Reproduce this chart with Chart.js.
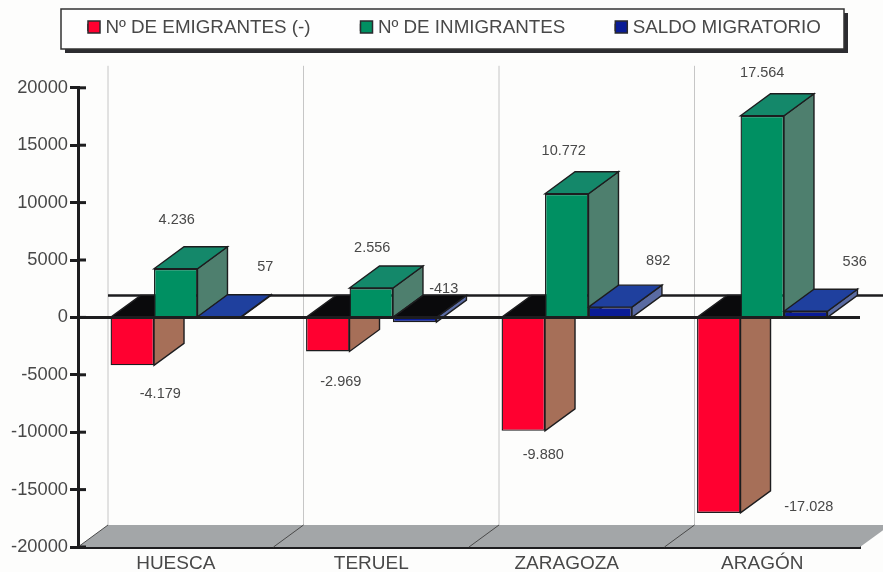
<!DOCTYPE html>
<html>
<head>
<meta charset="utf-8">
<title>Saldo migratorio</title>
<script src="https://cdn.jsdelivr.net/npm/chart.js@4/dist/chart.umd.min.js"></script>
<style>
  html, body { margin: 0; padding: 0; background: #fdfdfc; }
  canvas { display: block; }
</style>
</head>
<body>
<canvas id="myChart" width="883" height="572"></canvas>
<script>
const categories = ['HUESCA', 'TERUEL', 'ZARAGOZA', 'ARAGÓN'];
const emigrantes = [-4179, -2969, -9880, -17028];
const inmigrantes = [4236, 2556, 10772, 17564];
const saldo = [57, -413, 892, 536];
const yTicks = [-20000, -15000, -10000, -5000, 0, 5000, 10000, 15000, 20000];

// extrusion of the bars, in pixels
const depthX = 30;
const depthY = 22;
const ink = '#1d1d1f';
const textColor = '#484848';
const font = 'Arial, "Liberation Sans", sans-serif';

// faces: front, side, top of each series
const faces = [
    { front: '#ff0030', side: '#a66f58', top: '#0a0a0c' },
    { front: '#009062', side: '#4e7f6e', top: '#14886a' },
    { front: '#0a1c96', side: '#5a6ba2', top: '#1f409e' }
];

// where each value label sits, relative to the end of its bar
const labelOffsets = [
    [[28, 29], [13, 31], [20, 24], [90, -6]],
    [[1, -49], [1, -40], [-3, -43], [0, -43]],
    [[46, -50], [29, -33], [48, -46], [49, -49]]
];

const formatValue = v => String(v).replace(/\B(?=(\d{3})+$)/g, '.');

function poly(ctx, pts, fill) {
    ctx.beginPath();
    pts.forEach((p, i) => i ? ctx.lineTo(p[0], p[1]) : ctx.moveTo(p[0], p[1]));
    ctx.closePath();
    ctx.fillStyle = fill;
    ctx.fill();
    ctx.lineWidth = 1.4;
    ctx.strokeStyle = ink;
    ctx.stroke();
}

const scene = {
    id: 'scene',
    afterLayout(chart) {
        // the legend keeps its wide item spacing but sits inside the frame
        chart.legend.left = 38;
        chart.legend.top = -32;
    },
    beforeDraw(chart) {
        const ctx = chart.ctx;
        ctx.save();
        // legend frame with its shadow
        ctx.fillStyle = '#2c2c30';
        ctx.fillRect(65, 13, 783, 40);
        ctx.fillStyle = '#fefefe';
        ctx.fillRect(61, 9, 783, 40);
        ctx.lineWidth = 1.5;
        ctx.strokeStyle = '#333';
        ctx.strokeRect(61, 9, 783, 40);
        ctx.restore();
    },
    beforeDatasetsDraw(chart) {
        const ctx = chart.ctx;
        const x = chart.scales.x;
        const y = chart.scales.y;
        const step = x.width / categories.length;
        const bottom = y.getPixelForValue(-20000);
        const zero = y.getPixelForValue(0);
        const top = y.getPixelForValue(20000);

        ctx.save();
        // floor
        ctx.beginPath();
        ctx.moveTo(x.left, bottom);
        ctx.lineTo(x.right, bottom);
        ctx.lineTo(x.right + depthX, bottom - depthY);
        ctx.lineTo(x.left + depthX, bottom - depthY);
        ctx.closePath();
        ctx.fillStyle = '#a3a6a8';
        ctx.fill();

        categories.forEach((c, i) => {
            const gx = x.left + step * i;
            ctx.beginPath();
            ctx.moveTo(gx + depthX, top - depthY);
            ctx.lineTo(gx + depthX, bottom - depthY);
            ctx.lineWidth = 1;
            ctx.strokeStyle = '#c6c6c6';
            ctx.stroke();
            ctx.beginPath();
            ctx.moveTo(gx + depthX, bottom - depthY);
            ctx.lineTo(gx, bottom);
            ctx.strokeStyle = '#4a4a4a';
            ctx.stroke();
        });

        // zero line on the back wall
        ctx.beginPath();
        ctx.moveTo(x.left + depthX, zero - depthY);
        ctx.lineTo(chart.width, zero - depthY);
        ctx.lineWidth = 2.5;
        ctx.strokeStyle = ink;
        ctx.stroke();

        // sides and tops, series by series; the library paints the fronts over them
        chart.data.datasets.forEach((ds, d) => {
            chart.getDatasetMeta(d).data.forEach(bar => {
                const l = bar.x - bar.width / 2;
                const r = bar.x + bar.width / 2;
                const hi = Math.min(bar.y, zero);
                const lo = Math.max(bar.y, zero);
                poly(ctx, [[r, hi], [r + depthX, hi - depthY], [r + depthX, lo - depthY], [r, lo]], faces[d].side);
                poly(ctx, [[l, hi], [l + depthX, hi - depthY], [r + depthX, hi - depthY], [r, hi]],
                    bar.y > zero ? faces[0].top : faces[d].top);
            });
        });
        ctx.restore();
    },
    afterDatasetsDraw(chart) {
        const ctx = chart.ctx;
        const x = chart.scales.x;
        const y = chart.scales.y;
        ctx.save();
        // zero line in front of the bars
        ctx.beginPath();
        ctx.moveTo(x.left, y.getPixelForValue(0));
        ctx.lineTo(x.right, y.getPixelForValue(0));
        ctx.lineWidth = 3;
        ctx.strokeStyle = ink;
        ctx.stroke();

        // inner half of the tick marks
        yTicks.forEach(v => {
            ctx.beginPath();
            ctx.moveTo(x.left, y.getPixelForValue(v));
            ctx.lineTo(x.left + 8, y.getPixelForValue(v));
            ctx.lineWidth = 3;
            ctx.stroke();
        });

        // value labels
        ctx.font = '14.5px ' + font;
        ctx.fillStyle = textColor;
        ctx.textAlign = 'center';
        ctx.textBaseline = 'middle';
        chart.data.datasets.forEach((ds, d) => {
            chart.getDatasetMeta(d).data.forEach((bar, i) => {
                const off = labelOffsets[d][i];
                ctx.fillText(formatValue(ds.data[i]), bar.x + off[0], bar.y + off[1]);
            });
        });

        // legend swatches, wider than the box the legend leaves for them
        chart.legend.legendHitBoxes.forEach((hit, i) => {
            ctx.fillStyle = faces[i].front;
            ctx.fillRect(hit.left, 21, 12, 12);
            ctx.lineWidth = 1.5;
            ctx.strokeStyle = '#2a2a2e';
            ctx.strokeRect(hit.left, 21, 12, 12);
        });
        ctx.restore();
    }
};

const ctx = document.getElementById('myChart').getContext('2d');

const myChart = new Chart(ctx, {
    type: 'bar',
    data: {
        labels: categories,
        datasets: [
            { label: 'Nº DE EMIGRANTES (-)', data: emigrantes, backgroundColor: faces[0].front, borderColor: ink, borderWidth: 1.4 },
            { label: 'Nº DE INMIGRANTES', data: inmigrantes, backgroundColor: faces[1].front, borderColor: ink, borderWidth: 1.4 },
            { label: 'SALDO MIGRATORIO', data: saldo, backgroundColor: faces[2].front, borderColor: ink, borderWidth: 1.4 }
        ]
    },
    plugins: [scene],
    options: {
        responsive: false,
        animation: false,
        layout: { padding: { top: 9, left: 0, right: 0, bottom: 0 } },
        datasets: { bar: { categoryPercentage: 0.667, barPercentage: 1 } },
        plugins: {
            tooltip: { enabled: false },
            legend: {
                display: true,
                position: 'top',
                align: 'start',
                labels: {
                    boxWidth: 8,
                    boxHeight: 6,
                    padding: 50,
                    color: textColor,
                    font: { family: font, size: 18.8 }
                }
            }
        },
        scales: {
            x: {
                grid: { display: false, drawTicks: false },
                border: { display: true, width: 3, color: ink },
                afterFit(scale) { scale.height = 25; },
                ticks: {
                    maxRotation: 0,
                    padding: 5,
                    color: textColor,
                    font: { family: font, size: 19 }
                }
            },
            y: {
                min: -20000,
                max: 20000,
                grid: { drawOnChartArea: false, drawTicks: true, tickLength: 8, tickWidth: 3, tickColor: ink },
                border: { display: true, width: 3, color: ink },
                afterFit(scale) { scale.width = 78; },
                afterBuildTicks(scale) { scale.ticks = yTicks.map(value => ({ value })); },
                ticks: {
                    padding: 2,
                    color: textColor,
                    font: { family: font, size: 18.3 },
                    callback: v => String(v)
                }
            },
            // empty axis: only keeps the plot clear of the floor's right corner
            margin: {
                position: 'right',
                grid: { display: false },
                border: { display: false },
                ticks: { display: false },
                afterFit(scale) { scale.width = 23; }
            }
        }
    }
});
</script>
</body>
</html>
